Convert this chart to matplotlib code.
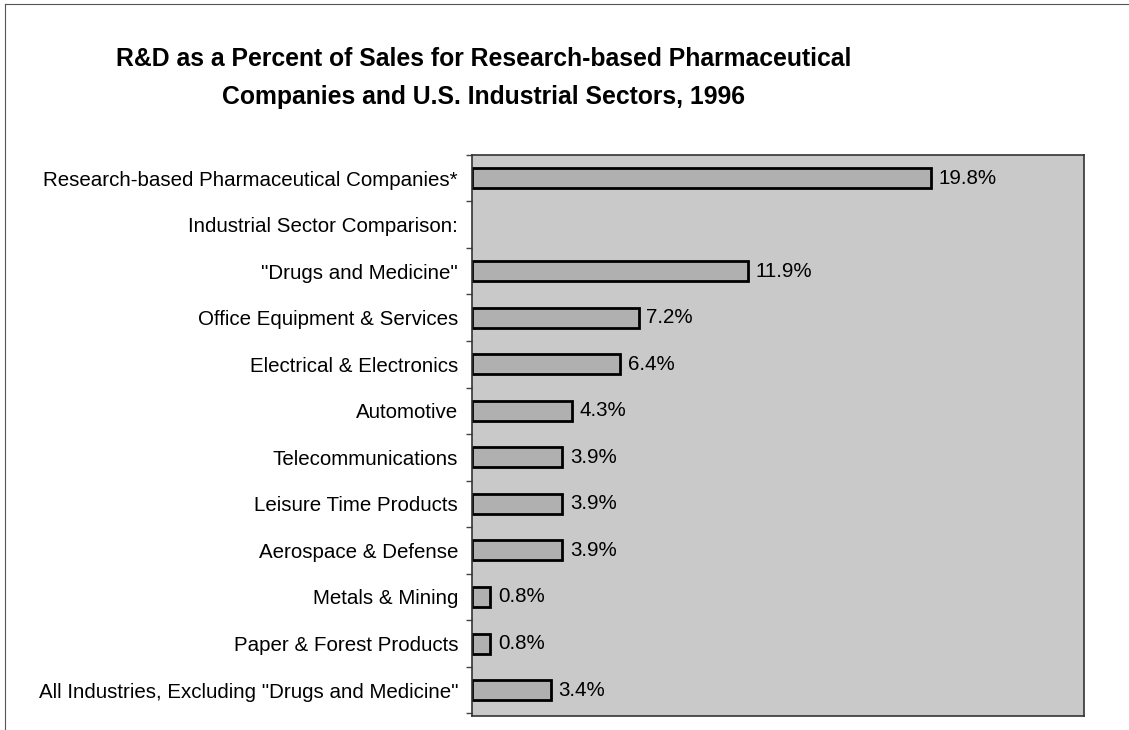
import matplotlib
matplotlib.use("Agg")
import matplotlib.pyplot as plt
import numpy as np

plt.rcParams['font.family'] = ['Liberation Sans', 'DejaVu Sans']

categories = [
    "Research-based Pharmaceutical Companies*",
    "Industrial Sector Comparison:",
    "\"Drugs and Medicine\"",
    "Office Equipment & Services",
    "Electrical & Electronics",
    "Automotive",
    "Telecommunications",
    "Leisure Time Products",
    "Aerospace & Defense",
    "Metals & Mining",
    "Paper & Forest Products",
    "All Industries, Excluding \"Drugs and Medicine\"",
]
values = [19.8, None, 11.9, 7.2, 6.4, 4.3, 3.9, 3.9, 3.9, 0.8, 0.8, 3.4]

title = ("R&D as a Percent of Sales for Research-based Pharmaceutical\n"
         "Companies and U.S. Industrial Sectors, 1996")

fig = plt.figure(figsize=(11.29, 7.30), dpi=100)
fig.patch.set_facecolor("white")

# thin page frame on the left and top
fig.add_artist(plt.Line2D([0.0045, 0.0045], [0, 0.995], transform=fig.transFigure,
                          color="#555555", lw=0.8))
fig.add_artist(plt.Line2D([0.0045, 1.0], [0.995, 0.995], transform=fig.transFigure,
                          color="#555555", lw=0.8))

ax = fig.add_axes([0.418, 0.019, 0.542, 0.769])
ax.set_facecolor("#c9c9c9")

pos = np.arange(len(categories))
for y, v in zip(pos, values):
    if v is None:
        continue
    ax.barh(y, v, height=0.43, color="#b0b0b0", edgecolor="black", linewidth=2.0)
    ax.text(v + 0.33, y, f"{v}%", va="center", ha="left", fontsize=14.8, color="black")

ax.set_xlim(0, 26.4)
ax.set_ylim(len(categories) - 0.44, -0.49)
ax.set_xticks([])
ax.set_yticks(pos)
ax.set_yticklabels(categories, fontsize=14.8)
ax.tick_params(axis="y", length=0, pad=10)
# short marks between categories
ax.set_yticks(np.arange(len(categories) + 1) - 0.5, minor=True)
ax.tick_params(axis="y", which="minor", length=4, width=1, color="#444444")
for s in ax.spines.values():
    s.set_color("#333333")
    s.set_linewidth(1.2)

fig.text(0.428, 0.893, title, ha="center", va="center", fontsize=17.8,
         fontweight="bold", linespacing=1.75)

fig.savefig("out.png", dpi=100)
